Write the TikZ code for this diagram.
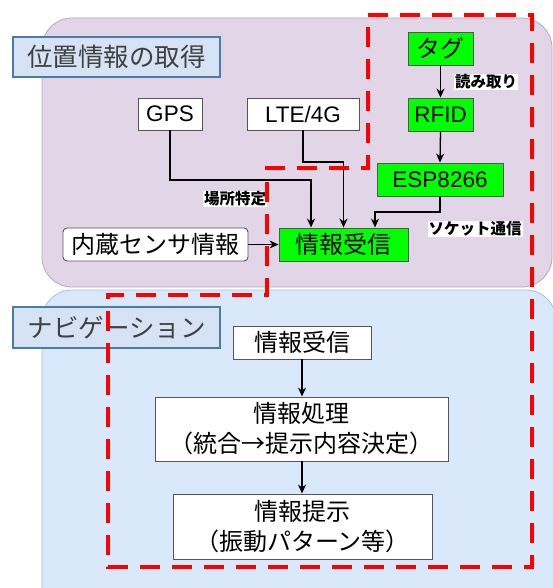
\documentclass[tikz,border=0pt]{standalone}
\usepackage{fontspec}
\setmainfont{Liberation Sans}
\newfontfamily\jp{Noto Sans CJK JP}
\usetikzlibrary{arrows.meta}
\definecolor{purplefill}{HTML}{E1D5E7}
\definecolor{purpleline}{HTML}{B9A5C6}
\definecolor{bluefill}{HTML}{DAE8FC}
\definecolor{blueline}{HTML}{A9C0E0}
\definecolor{titleline}{HTML}{4B7BA8}
\definecolor{titlefill}{HTML}{D6E3F5}
\definecolor{boxline}{HTML}{555555}
\definecolor{greenfill}{HTML}{00FF00}
\definecolor{titletext}{HTML}{404040}
\tikzset{
  box/.style={draw=boxline, line width=0.9pt, fill=white, inner sep=0pt, align=center,
    font=\jp\fontsize{24}{30}\selectfont},
  gbox/.style={box, fill=greenfill},
  latin/.style={font=\fontsize{22.5}{26}\selectfont},
  titlebox/.style={draw=titleline, line width=2pt, fill=titlefill, inner sep=0pt,
    text=titletext, font=\jp\fontsize{25.5}{28}\selectfont},
  lbl/.style={fill=white, inner sep=1pt, font=\jp\bfseries\fontsize{15.5}{17}\selectfont},
  arr/.style={line width=1.3pt, -{Stealth[length=9pt,width=8pt]}},
  reddash/.style={draw=red, line width=4pt, dash pattern=on 20pt off 12pt}
}
\begin{document}
\begin{tikzpicture}[x=1pt, y=-1pt]
\useasboundingbox (0,0) rectangle (553,588);
\clip (0,0) rectangle (553,588);
% panels
\draw[fill=purplefill, draw=purpleline, line width=0.8pt, rounded corners=30pt] (42,18) rectangle (552,287);
\draw[fill=bluefill, draw=blueline, line width=0.8pt, rounded corners=30pt] (42,290) rectangle (556,630);
% titles
\node[titlebox, minimum width=207pt, minimum height=40pt] (t1) at (116.5,57) {位置情報の取得};
\node[titlebox, minimum width=207pt, minimum height=41pt] (t2) at (116.5,327.5) {ナビゲーション};
% top nodes
\node[box, latin, minimum width=64pt, minimum height=32pt] (gps) at (170,114) {GPS};
\node[box, latin, minimum width=112pt, minimum height=32pt] (lte) at (303,114) {LTE/4G};
\node[gbox, minimum width=65pt, minimum height=33pt] (tag) at (440.5,48.5) {タグ};
\node[gbox, latin, minimum width=65pt, minimum height=33pt] (rfid) at (440.5,114.5) {RFID};
\node[gbox, latin, minimum width=126pt, minimum height=33pt] (esp) at (440,179.5) {ESP8266};
\node[gbox, minimum width=129pt, minimum height=33pt] (recv) at (343.5,244.5) {情報受信};
\node[box, rounded corners=4pt, minimum width=185pt, minimum height=33pt] (sensor) at (155.5,244.5) {内蔵センサ情報};
% bottom nodes
\node[box, minimum width=138pt, minimum height=33pt] (recv2) at (302,342.5) {情報受信};
\node[box, minimum width=293pt, minimum height=64pt] (proc) at (301.5,429) {情報処理\\（統合→提示内容決定）};
\node[box, minimum width=259pt, minimum height=65pt] (pres) at (302.5,526.5) {情報提示\\（振動パターン等）};
% connectors
\coordinate (g1) at (311,180);
\coordinate (l1) at (343.5,162);
\coordinate (e1) at (375,212);
\draw[arr] (gps.south) |- (g1) -- (g1 |- recv.north);
\draw[arr] (lte.south) |- (l1) -- (recv.north);
\draw[arr] (esp.south) |- (e1) -- (e1 |- recv.north);
\draw[arr] (sensor.east) -- (recv.west);
\draw[arr] (tag.south) -- (rfid.north);
\draw[arr] (rfid.south) -- (esp.north);
\draw[arr] (recv2.south) -- (proc.north -| recv2.south);
\draw[arr] (proc.south -| recv2.south) -- (pres.north -| recv2.south);
% labels
\node[lbl] (lb1) at (235,199) {場所特定};
\node[lbl] (lb2) at (486,82) {読み取り};
\node[lbl] (lb3) at (475,229) {ソケット通信};
% red dashed region
\draw[reddash] (368,15) -- (532,15) -- (532,567) -- (108,567) -- (108,295) -- (267,295) -- (267,168) -- (368,168) -- cycle;
\end{tikzpicture}
\end{document}
